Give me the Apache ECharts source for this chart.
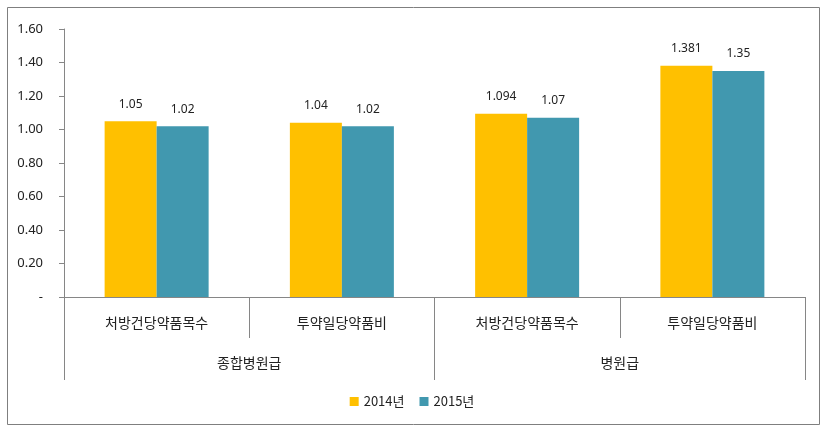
<!DOCTYPE html>
<html><head><meta charset="utf-8">
<script src="https://cdn.jsdelivr.net/npm/echarts@6/dist/echarts.min.js"></script>
<style>html,body{margin:0;padding:0;background:#fff}#c{width:824px;height:432px}</style>
</head><body><div id="c"></div>
<script>
const categories = ['처방건당약품목수','투약일당약품비','처방건당약품목수','투약일당약품비'];
const groups = ['종합병원급','병원급'];
const seriesNames = ['2014년','2015년'];
const values2014 = [1.05, 1.04, 1.094, 1.381];
const values2015 = [1.02, 1.02, 1.07, 1.35];
const labels2014 = ['1.05','1.04','1.094','1.381'];
const labels2015 = ['1.02','1.02','1.07','1.35'];

const font = '"Noto Sans CJK KR", "Noto Sans", sans-serif';
const numFont = '"Noto Sans", "Noto Sans CJK KR", sans-serif';
const chart = echarts.init(document.getElementById('c'));
const axisColor = '#868686';
chart.setOption({
  animation: false,
  textStyle: {fontFamily: font},
  graphic: [{type:'rect', shape:{x:7.5,y:7.5,width:812,height:417}, style:{fill:'none', stroke:'#7f7f7f', lineWidth:1}, z:-1}],
  legend: {bottom: 19, left: 'center', itemWidth: 9, itemHeight: 9, itemGap: 15,
    textStyle:{fontSize:13, color:'#222', fontFamily:font}, data: seriesNames,
    icon: 'rect'},
  grid: {left: 64, right: 19, top: 29, bottom: 135},
  xAxis: [
    {type:'category', data: categories, position:'bottom',
     axisLine:{show:true, lineStyle:{color:axisColor}},
     axisTick:{show:true, length:41, alignWithLabel:false, lineStyle:{color:axisColor}},
     axisLabel:{fontSize:14, color:'#222', margin:19, fontFamily:font, interval:0}},
    {type:'category', data: groups, position:'bottom',
     axisLine:{show:false},
     axisTick:{show:true, length:83, lineStyle:{color:axisColor}},
     axisLabel:{fontSize:14, color:'#222', margin:59, fontFamily:font, interval:0}}
  ],
  yAxis: {type:'value', min:0, max:1.6, interval:0.2,
    axisLine:{show:true, lineStyle:{color:axisColor}},
    axisTick:{show:true, length:5, lineStyle:{color:axisColor}},
    splitLine:{show:false},
    axisLabel:{fontSize:13, color:'#222', margin:21, fontFamily:numFont,
      formatter: v => v === 0 ? '-' : v.toFixed(2)}},
  series: [
    {name: seriesNames[0], type:'bar', xAxisIndex:0, data: values2014, barWidth: 52, barGap:'0%',
     itemStyle:{color:'#FFC000'},
     label:{show:true, position:'top', distance:11, fontSize:12, color:'#222', fontFamily:numFont,
       formatter: p => labels2014[p.dataIndex]}},
    {name: seriesNames[1], type:'bar', xAxisIndex:0, data: values2015, barWidth: 52, barGap:'0%',
     itemStyle:{color:'#4198AF'},
     label:{show:true, position:'top', distance:11, fontSize:12, color:'#222', fontFamily:numFont,
       formatter: p => labels2015[p.dataIndex]}}
  ]
});
</script></body></html>
